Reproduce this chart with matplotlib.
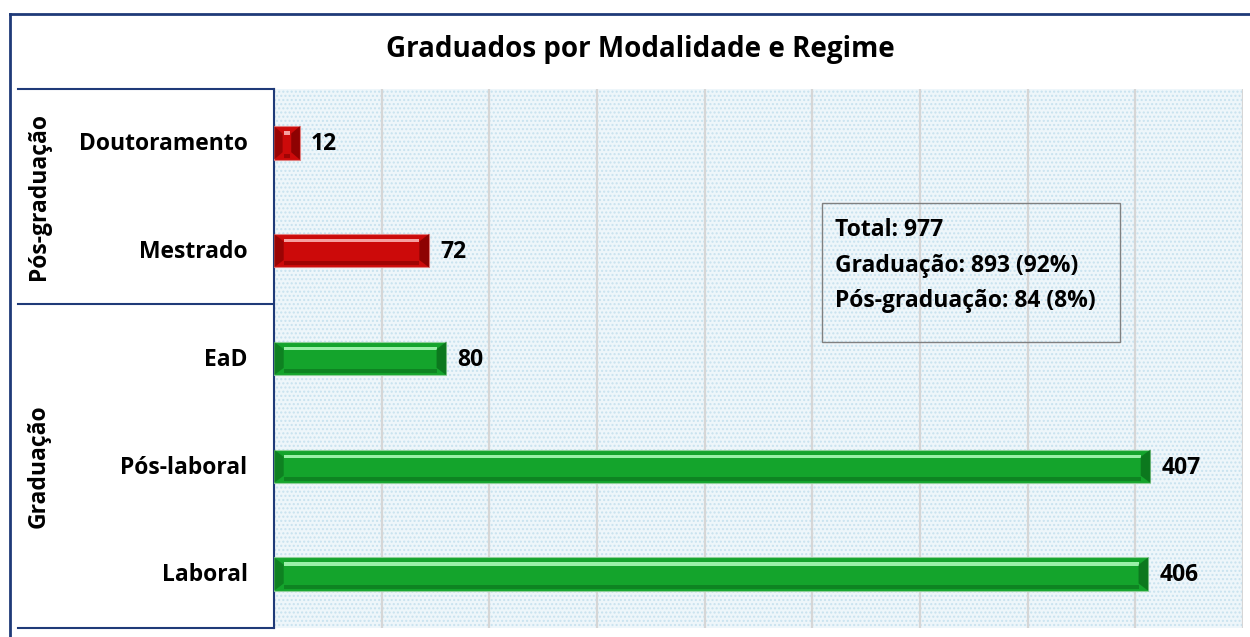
import numpy as np
import matplotlib
matplotlib.use('Agg')
import matplotlib.pyplot as plt
from matplotlib.lines import Line2D
from matplotlib.patches import Polygon, Rectangle

# data
categories = ['Doutoramento', 'Mestrado', 'EaD', 'Pós-laboral', 'Laboral']
values = [12, 72, 80, 407, 406]
groups = ['Pós-graduação', 'Pós-graduação', 'Graduação', 'Graduação', 'Graduação']
summary = ['Total: 977', 'Graduação: 893 (92%)', 'Pós-graduação: 84 (8%)']
title = 'Graduados por Modalidade e Regime'

plt.rcParams['font.family'] = ['Open Sans', 'DejaVu Sans']
plt.rcParams['font.weight'] = 'bold'

W, H = 1250, 637
fig = plt.figure(figsize=(12.5, 6.37), dpi=100)
ax = fig.add_axes([274 / W, 1 - 628 / H, (1243 - 274) / W, (628 - 89) / H])

navy = '#1F3A78'
colors = {'Pós-graduação': ('#CC0A0A', '#F5A0A0', '#7A0000'),
          'Graduação': ('#14A42C', '#9AF0A8', '#0A6A1A')}

# textured light blue background
ax.set_facecolor('#EEF6FA')
ax.add_patch(Rectangle((0, 0), 1, 1, transform=ax.transAxes, facecolor='none',
                       edgecolor='#C8E2EF', hatch='....', linewidth=0, zorder=0))

y = np.arange(len(categories))
h = 0.31
ax.set_xlim(0, 450)
ax.set_ylim(len(categories) - 0.5, -0.5)
ax.set_xticks(np.arange(0, 451, 50))
ax.grid(axis='x', color='#D6D6D6', linewidth=1.6, zorder=1)
ax.tick_params(left=False, bottom=False, labelleft=False, labelbottom=False)
for s in ['top', 'right', 'bottom']:
    ax.spines[s].set_visible(False)
ax.spines['left'].set_color(navy)
ax.spines['left'].set_linewidth(1.5)

bev = 4.5  # bevel width in data units
for yi, v, g, c in zip(y, values, groups, categories):
    base, light, dark = colors[g]
    ax.barh(yi, v, height=h, color=base, edgecolor='#8FCF9A' if g == 'Graduação' else '#E08080',
            linewidth=0.8, zorder=3)
    # top highlight and bottom shade strips
    ax.barh(yi - h * 0.30, v - 2 * bev, left=bev, height=h * 0.10, color=light, linewidth=0, zorder=4)
    ax.barh(yi + h * 0.38, v - 2 * bev, left=bev, height=h * 0.12, color=dark, alpha=0.55,
            linewidth=0, zorder=4)
    # bevelled ends
    b = min(bev, v / 3)
    ax.add_patch(Polygon([[0, yi - h / 2], [b, yi - h * 0.28], [b, yi + h * 0.28], [0, yi + h / 2]],
                         closed=True, facecolor=dark, alpha=0.6, linewidth=0, zorder=5))
    ax.add_patch(Polygon([[v, yi - h / 2], [v - b, yi - h * 0.28], [v - b, yi + h * 0.28], [v, yi + h / 2]],
                         closed=True, facecolor=dark, alpha=0.75, linewidth=0, zorder=5))
    ax.annotate(str(v), (v, yi), xytext=(8, -1), textcoords='offset points',
                ha='left', va='center', fontsize=16.5, fontweight='bold', color='black')

# summary box
ax.add_patch(Rectangle((0.5655, 0.5306), 0.3075, 0.258, transform=ax.transAxes,
                       facecolor='none', edgecolor='#808080', linewidth=1, zorder=6))
ax.text(0.579, 0.760, '\n'.join(summary), transform=ax.transAxes, ha='left', va='top',
        fontsize=16.5, fontweight='bold', linespacing=1.62, zorder=6)

# category labels
for yi, c in zip(y, categories):
    ax.annotate(c, (0, yi), xytext=(-19, -1), textcoords='offset points',
                ha='right', va='center', fontsize=16.5, fontweight='bold')

# group labels and left box lines
def fy(py):
    return 1 - py / H

fig.text(39 / W, fy(197), 'Pós-graduação', rotation=90, ha='center', va='center',
         fontsize=16.5, fontweight='bold')
fig.text(39 / W, fy(466), 'Graduação', rotation=90, ha='center', va='center',
         fontsize=16.5, fontweight='bold')
for py in [89, 304, 628]:
    fig.add_artist(Line2D([18 / W, 274 / W], [fy(py), fy(py)], color=navy, linewidth=1.5))

# outer figure border
fig.add_artist(Line2D([10 / W, 1], [fy(14), fy(14)], color=navy, linewidth=2))
fig.add_artist(Line2D([10 / W, 10 / W], [fy(14), 0], color=navy, linewidth=2))

fig.text(640 / W, fy(49), title, ha='center', va='center', fontsize=20, fontweight='bold')

fig.savefig('out.png', dpi=100, facecolor='white')
